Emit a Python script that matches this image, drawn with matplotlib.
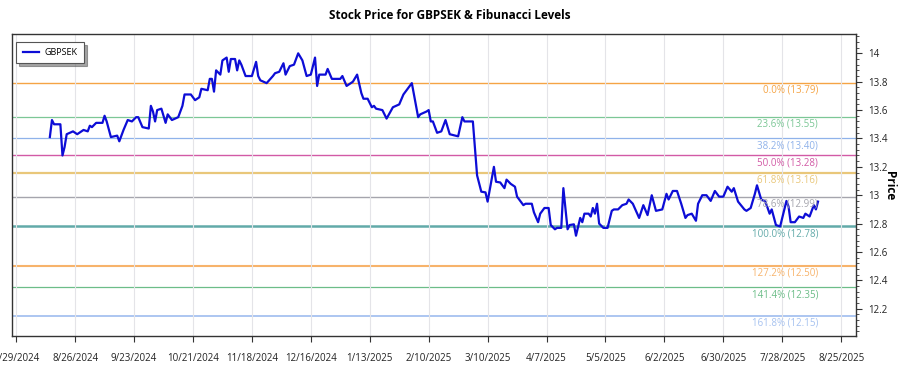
import numpy as np
import pandas as pd
import matplotlib
matplotlib.use("Agg")
import matplotlib.pyplot as plt
import matplotlib.dates as mdates
from matplotlib.ticker import AutoMinorLocator, FuncFormatter

plt.rcParams['font.family'] = ['Open Sans', 'DejaVu Sans']

# GBPSEK closes
dates = [
    "2024-08-14", "2024-08-15", "2024-08-16", "2024-08-19", "2024-08-20", "2024-08-21", "2024-08-22",
    "2024-08-25", "2024-08-27", "2024-08-30", "2024-09-01", "2024-09-02", "2024-09-03", "2024-09-05",
    "2024-09-08", "2024-09-09", "2024-09-10", "2024-09-12", "2024-09-15", "2024-09-16", "2024-09-18",
    "2024-09-20", "2024-09-22", "2024-09-24", "2024-09-25", "2024-09-27", "2024-09-30", "2024-10-01",
    "2024-10-02", "2024-10-03", "2024-10-04", "2024-10-06", "2024-10-08", "2024-10-09", "2024-10-11",
    "2024-10-14", "2024-10-16", "2024-10-17", "2024-10-20", "2024-10-22", "2024-10-24", "2024-10-25",
    "2024-10-28", "2024-10-29", "2024-10-30", "2024-10-31", "2024-11-01", "2024-11-03", "2024-11-04",
    "2024-11-06", "2024-11-07", "2024-11-08", "2024-11-10", "2024-11-11", "2024-11-12", "2024-11-13",
    "2024-11-15", "2024-11-18", "2024-11-20", "2024-11-21", "2024-11-22", "2024-11-25", "2024-11-28",
    "2024-11-29", "2024-12-01", "2024-12-03", "2024-12-04", "2024-12-06", "2024-12-08", "2024-12-10",
    "2024-12-12", "2024-12-14", "2024-12-16", "2024-12-18", "2024-12-19", "2024-12-20", "2024-12-23",
    "2024-12-24", "2024-12-26", "2024-12-28", "2024-12-30", "2024-12-31", "2025-01-02", "2025-01-05",
    "2025-01-07", "2025-01-09", "2025-01-10", "2025-01-12", "2025-01-14", "2025-01-15", "2025-01-16",
    "2025-01-19", "2025-01-21", "2025-01-24", "2025-01-27", "2025-01-29", "2025-02-02", "2025-02-05",
    "2025-02-06", "2025-02-09", "2025-02-10", "2025-02-11", "2025-02-12", "2025-02-14", "2025-02-16",
    "2025-02-18", "2025-02-20", "2025-02-24", "2025-02-26", "2025-02-27", "2025-03-03", "2025-03-05",
    "2025-03-07", "2025-03-09", "2025-03-10", "2025-03-13", "2025-03-14", "2025-03-16", "2025-03-18",
    "2025-03-19", "2025-03-21", "2025-03-23", "2025-03-24", "2025-03-27", "2025-03-28", "2025-03-31",
    "2025-04-01", "2025-04-03", "2025-04-04", "2025-04-06", "2025-04-08", "2025-04-09", "2025-04-11",
    "2025-04-12", "2025-04-14", "2025-04-15", "2025-04-17", "2025-04-18", "2025-04-20", "2025-04-21",
    "2025-04-23", "2025-04-24", "2025-04-25", "2025-04-27", "2025-04-28", "2025-04-29", "2025-04-30",
    "2025-05-01", "2025-05-02", "2025-05-04", "2025-05-06", "2025-05-08", "2025-05-09", "2025-05-11",
    "2025-05-13", "2025-05-15", "2025-05-16", "2025-05-18", "2025-05-21", "2025-05-23", "2025-05-25",
    "2025-05-27", "2025-05-29", "2025-06-01", "2025-06-03", "2025-06-04", "2025-06-06", "2025-06-08",
    "2025-06-10", "2025-06-12", "2025-06-13", "2025-06-15", "2025-06-17", "2025-06-18", "2025-06-20",
    "2025-06-22", "2025-06-24", "2025-06-26", "2025-06-28", "2025-06-30", "2025-07-02", "2025-07-04",
    "2025-07-05", "2025-07-07", "2025-07-10", "2025-07-11", "2025-07-13", "2025-07-15", "2025-07-16",
    "2025-07-18", "2025-07-20", "2025-07-22", "2025-07-23", "2025-07-25", "2025-07-27", "2025-07-28",
    "2025-07-30", "2025-07-31", "2025-08-01", "2025-08-03", "2025-08-05", "2025-08-07", "2025-08-08",
    "2025-08-10", "2025-08-12", "2025-08-13", "2025-08-14",
]
prices = [
    13.41, 13.53, 13.50, 13.50, 13.28, 13.34, 13.43,
    13.45, 13.43, 13.46, 13.45, 13.49, 13.48, 13.51,
    13.51, 13.56, 13.52, 13.41, 13.42, 13.38, 13.46,
    13.53, 13.52, 13.55, 13.55, 13.48, 13.47, 13.63,
    13.59, 13.52, 13.60, 13.61, 13.51, 13.57, 13.53,
    13.55, 13.63, 13.71, 13.71, 13.67, 13.69, 13.75,
    13.74, 13.82, 13.82, 13.73, 13.88, 13.85, 13.95,
    13.97, 13.87, 13.96, 13.96, 13.88, 13.95, 13.92,
    13.84, 13.84, 13.94, 13.84, 13.81, 13.79, 13.84,
    13.86, 13.87, 13.93, 13.85, 13.91, 13.92, 14.00,
    13.95, 13.84, 13.85, 13.97, 13.77, 13.85, 13.85,
    13.89, 13.82, 13.82, 13.82, 13.84, 13.77, 13.80,
    13.85, 13.72, 13.68, 13.68, 13.62, 13.63, 13.61,
    13.60, 13.54, 13.62, 13.64, 13.71, 13.79, 13.55,
    13.57, 13.59, 13.60, 13.52, 13.52, 13.44, 13.45,
    13.53, 13.43, 13.415, 13.55, 13.52, 13.52, 13.14,
    13.025, 13.02, 12.955, 13.20, 13.095, 13.09, 13.05,
    13.11, 13.08, 13.06, 12.99, 12.93, 12.94, 12.94,
    12.88, 12.81, 12.87, 12.91, 12.91, 12.79, 12.76,
    12.77, 12.77, 13.05, 12.76, 12.79, 12.795, 12.715,
    12.84, 12.81, 12.87, 12.87, 12.85, 12.91, 12.87,
    12.94, 12.80, 12.77, 12.77, 12.89, 12.90, 12.90,
    12.93, 12.94, 12.97, 12.94, 12.84, 12.93, 12.86,
    13.00, 12.89, 12.90, 13.01, 12.97, 13.03, 13.03,
    12.94, 12.84, 12.86, 12.87, 12.82, 12.94, 13.00,
    13.00, 12.96, 13.03, 12.99, 12.99, 13.06, 13.025,
    13.05, 12.955, 12.90, 12.89, 12.91, 13.01, 13.07,
    12.97, 12.955, 12.87, 12.90, 12.79, 12.78, 12.84,
    12.96, 12.92, 12.81, 12.81, 12.85, 12.84, 12.87,
    12.85, 12.93, 12.90, 12.955,
]

fib_ratios = ["0.0%", "23.6%", "38.2%", "50.0%", "61.8%", "78.6%", "100.0%", "127.2%", "141.4%", "161.8%"]
fib_levels = [13.79, 13.55, 13.40, 13.28, 13.16, 12.99, 12.78, 12.50, 12.35, 12.15]
fib_colors = ["#f5a445", "#7cc796", "#8fb2ea", "#d25aa6", "#e9c77a",
              "#a5a5ad", "#62aaa9", "#f7b36b", "#6cbd88", "#a6c2f0"]
fib_widths = [1.0, 0.9, 0.9, 1.0, 1.6, 1.0, 1.8, 1.5, 0.9, 1.3]

x = pd.to_datetime(dates)

fig = plt.figure(figsize=(9, 3.75), dpi=100)
ax = fig.add_axes([0.0133, 0.104, 0.9377, 0.8045])

for ratio, level, c, lw in zip(fib_ratios, fib_levels, fib_colors, fib_widths):
    ax.axhline(level, color=c, lw=lw, zorder=1)
    ax.text(x[-1], level - 0.012, f"{ratio} ({level:.2f})", color=c, fontsize=7,
            ha='right', va='top', zorder=3)

ax.plot(x, prices, color='#0d0dd6', lw=1.6, label='GBPSEK', zorder=2)

ax.set_xlim(pd.Timestamp("2024-07-27"), pd.Timestamp("2025-09-01"))
ax.set_ylim(12.008, 14.134)

ticks = pd.date_range("2024-07-29", periods=15, freq="28D")
ax.set_xticks(ticks)
ax.xaxis.set_major_formatter(FuncFormatter(
    lambda v, pos: (lambda d: f"{d.month}/{d.day}/{d.year}")(mdates.num2date(v))))
ax.grid(axis='x', color='#e4e4e8', lw=0.8)

ax.yaxis.tick_right()
ax.yaxis.set_label_position('right')
ax.set_yticks([12.2, 12.4, 12.6, 12.8, 13.0, 13.2, 13.4, 13.6, 13.8, 14.0])
ax.yaxis.set_major_formatter(FuncFormatter(lambda v, pos: f"{v:g}"))
ax.yaxis.set_minor_locator(AutoMinorLocator(5))
ax.tick_params(axis='both', labelsize=7, color='#333333', labelcolor='#222222')
ax.tick_params(axis='y', which='major', length=4, pad=5)
ax.tick_params(axis='y', which='minor', length=2, color='#333333')
ax.tick_params(axis='x', length=4, pad=8)
ax.set_ylabel("Price", fontsize=8.5, fontweight='bold', rotation=270, labelpad=6)

for s in ax.spines.values():
    s.set_color('#333333')
    s.set_linewidth(1.0)

leg = ax.legend(loc='upper left', fontsize=6.5, fancybox=False, shadow=True,
                borderpad=0.7, handlelength=1.8, handletextpad=0.6,
                bbox_to_anchor=(0.0, 0.99))
leg.get_frame().set_edgecolor('#555555')
leg.get_frame().set_linewidth(0.8)

fig.suptitle("Stock Price for GBPSEK & Fibunacci Levels", fontsize=8.5, fontweight='bold', y=0.975)

fig.savefig("out.png", dpi=100)
